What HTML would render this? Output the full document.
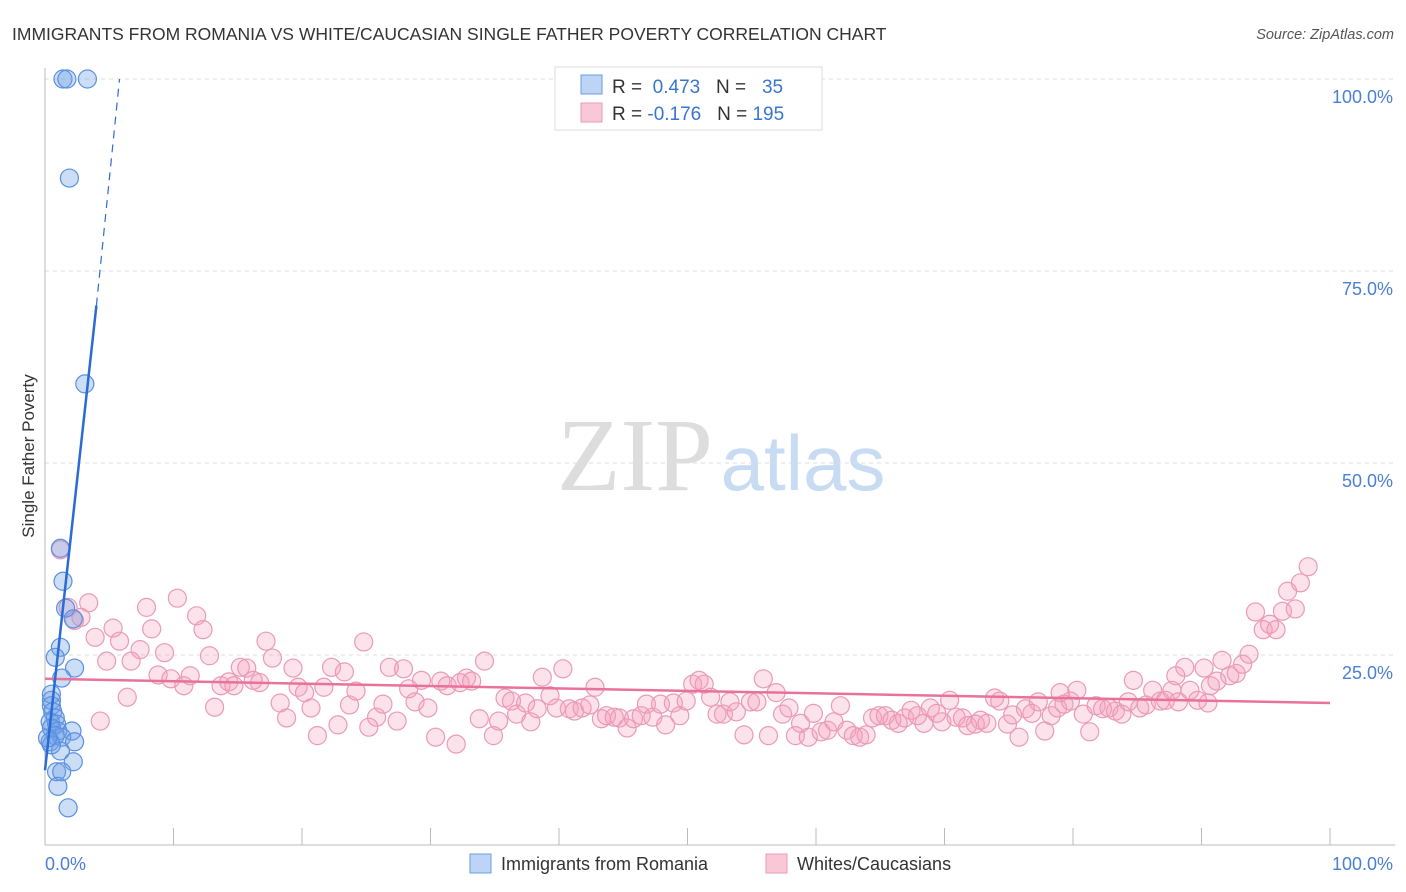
<!DOCTYPE html>
<html><head><meta charset="utf-8"><style>
body{margin:0;background:#fff;font-family:"Liberation Sans",sans-serif}
svg{display:block}
</style></head><body>
<svg width="1406" height="892" viewBox="0 0 1406 892" xmlns="http://www.w3.org/2000/svg">
<text x="12" y="40" font-size="17.5" fill="#333">IMMIGRANTS FROM ROMANIA VS WHITE/CAUCASIAN SINGLE FATHER POVERTY CORRELATION CHART</text>
<text x="1394" y="39" font-size="14.5" fill="#555" font-style="italic" text-anchor="end">Source: ZipAtlas.com</text>
<g>
<text x="635" y="490" font-size="104" font-family="Liberation Serif,serif" fill="#ddd" text-anchor="middle">ZIP</text>
<text x="803" y="490" font-size="78" fill="#c7dbf3" text-anchor="middle">atlas</text>
</g>
<g id="grid"></g>
<g id="axes"></g>
<g id="pink"></g>
<g id="blue"></g>
<g id="lines"></g>
<text transform="translate(34,456) rotate(-90)" font-size="17" fill="#333" text-anchor="middle">Single Father Poverty</text>
<text x="45" y="870" font-size="18" fill="#4a7fd4">0.0%</text>
<text x="1393" y="870" font-size="18" fill="#4a7fd4" text-anchor="end">100.0%</text>
<g>
<rect x="555" y="67" width="267" height="63" fill="#fff" stroke="#ddd"/>
<rect x="581" y="75" width="21" height="19" fill="#bcd4f5" stroke="#6a9be0"/>
<rect x="581" y="103" width="21" height="19" fill="#f9c8d6" stroke="#ec9ab5"/>
<text x="612" y="93" font-size="19" fill="#333">R = <tspan fill="#3a74d0">&#160;0.473</tspan>&#160;&#160;&#160;N = <tspan fill="#3a74d0">&#160;&#160;35</tspan></text>
<text x="612" y="120" font-size="19" fill="#333">R = <tspan fill="#3a74d0">-0.176</tspan>&#160;&#160;&#160;N = <tspan fill="#3a74d0">195</tspan></text>
</g>
<g>
<rect x="470" y="854" width="21" height="19" fill="#bcd4f5" stroke="#6a9be0"/>
<text x="501" y="870" font-size="18" fill="#333">Immigrants from Romania</text>
<rect x="766" y="854" width="21" height="19" fill="#f9c8d6" stroke="#ec9ab5"/>
<text x="797" y="870" font-size="18" fill="#333">Whites/Caucasians</text>
</g>
</svg>
<script>
const yTicks=[25,50,75,100];
const yTickLabels=["25.0%","50.0%","75.0%","100.0%"];
const xTicks=[10,20,30,40,50,60,70,80,90,100];
const blueX=[1.4,1.7,3.3,1.9,3.1,1.2,1.4,1.6,2.2,1.2,0.8,2.3,1.3,0.5,0.5,0.5,0.6,0.8,0.4,0.9,0.5,1.0,2.1,0.8,1.3,2.3,0.4,1.2,2.2,0.9,1.3,1.0,1.8,0.5,0.2];
const blueY=[100,100,100,87.1,60.3,38.9,34.6,31.1,29.7,26.0,24.7,23.3,22.0,19.9,19.1,18.4,17.6,16.8,16.3,16.0,15.5,15.1,15.1,14.5,14.3,13.7,13.7,12.5,11.1,9.8,9.8,7.9,5.1,13.3,14.2];
const pinkX=[1.2,1.8,3.4,2.8,2.3,3.9,4.3,4.8,5.3,5.8,6.4,6.7,7.4,7.9,8.3,8.8,9.3,9.8,10.3,10.8,11.3,11.8,12.3,12.8,13.2,13.7,14.3,14.7,15.2,15.7,16.2,16.7,17.2,17.7,18.3,18.8,19.3,19.7,20.2,20.7,21.2,21.7,22.3,22.8,23.3,23.7,24.2,24.8,25.2,25.8,26.3,26.8,27.4,27.9,28.3,28.8,29.3,29.8,30.4,30.8,31.3,32.0,32.3,32.8,33.2,33.8,34.2,34.9,35.3,35.8,36.3,36.7,37.4,37.8,38.3,38.7,39.3,39.8,40.3,40.8,41.2,41.8,42.4,42.8,43.3,43.7,44.3,44.7,45.3,45.8,46.4,46.8,47.3,47.9,48.3,48.9,49.4,49.9,50.4,50.9,51.3,51.8,52.3,52.8,53.3,53.8,54.4,54.9,55.4,55.9,56.3,56.9,57.4,57.9,58.4,58.8,59.4,59.8,60.4,60.9,61.4,61.9,62.4,62.9,63.4,63.9,64.4,64.9,65.4,65.9,66.4,66.9,67.4,67.9,68.4,68.9,69.4,69.8,70.4,70.9,71.4,71.8,72.4,72.8,73.3,73.9,74.3,74.9,75.3,75.8,76.3,76.8,77.3,77.8,78.3,78.8,79.3,79.8,80.3,80.8,81.3,81.8,82.3,82.8,83.3,83.8,84.3,84.7,85.2,85.7,86.2,86.8,87.2,87.7,88.2,88.7,89.1,89.7,90.2,90.7,91.2,91.6,92.2,92.7,93.2,93.7,94.2,94.8,95.3,95.8,96.3,96.7,97.3,97.7,98.3,90.5,88.0,79.0];
const pinkY=[38.7,31.2,31.8,29.9,29.5,27.3,16.4,24.2,28.5,26.8,19.5,24.2,25.7,31.2,28.4,22.4,25.3,21.9,32.4,21.0,22.3,30.1,28.3,24.9,18.2,21.0,21.5,21.0,23.4,23.3,21.7,21.4,26.8,24.6,18.75,16.8,23.3,20.8,20.1,18.1,14.5,20.8,23.4,15.9,22.8,18.5,20.3,26.7,15.6,16.9,18.6,23.4,16.4,23.2,20.6,18.9,21.7,18.1,14.3,21.6,21.0,13.4,21.4,22.0,21.6,16.7,24.2,14.5,16.4,19.4,19.0,17.3,18.75,16.3,18.0,22.1,19.7,18.1,23.2,18.0,17.7,18.1,18.5,20.8,16.7,17.1,16.9,16.8,15.5,16.7,17.1,18.6,16.9,18.6,15.9,18.75,17.1,19.0,21.2,21.7,21.2,19.5,17.3,17.3,18.9,17.6,14.6,18.9,18.9,21.9,14.5,20.1,17.3,18.1,14.5,16.1,14.3,17.4,15.0,15.2,16.3,18.4,15.2,14.5,14.3,14.6,16.8,17.1,17.1,16.5,16.1,16.8,17.8,17.1,16.1,18.1,17.4,16.3,19.1,16.9,16.8,15.8,16.0,16.5,16.1,19.4,19.0,16.0,17.2,14.3,18.0,17.4,18.9,15.1,17.1,18.1,18.6,19.0,20.4,17.3,15.0,18.4,18.0,18.1,17.7,17.3,18.9,21.7,18.1,18.5,20.4,19.0,19.1,20.4,18.9,23.4,20.4,19.1,23.3,21.0,21.6,24.3,22.3,22.6,23.8,25.1,30.6,28.3,29.0,28.3,30.7,33.3,31.0,34.4,36.5,18.75,22.3,20.1];
const blueLine=[0,10.0,4.0,70.5,5.8,100];
const pinkLine=[0,21.9,100,18.75];
const X0=45,X1=1330,Y0=847,Y100=79;
const sx=v=>X0+(X1-X0)*v/100, sy=v=>Y0-(Y0-Y100)*v/100;
const NS="http://www.w3.org/2000/svg";
function mk(p,t,a){const e=document.createElementNS(NS,t);for(const k in a)e.setAttribute(k,a[k]);p.appendChild(e);return e;}
const grid=document.getElementById('grid'),axes=document.getElementById('axes');
yTicks.forEach((t,i)=>{
 const l=mk(grid,'line',{x1:X0,x2:1395,y1:sy(t),y2:sy(t),stroke:'#ddd','stroke-dasharray':'4,4'});
 
 
 const tx=mk(grid,'text',{x:1393,y:sy(t)+24,'font-size':18,fill:'#4a7fd4','text-anchor':'end'});
 tx.textContent=yTickLabels[i];
 
 
});
const ax=mk(axes,'line',{x1:X0,x2:1395,y1:845,y2:845,stroke:'#bbb'});


const ay=mk(axes,'line',{x1:X0,x2:X0,y1:68,y2:845,stroke:'#bbb'});


xTicks.forEach(t=>{
 const l=mk(axes,'line',{x1:sx(t),x2:sx(t),y1:828,y2:845,stroke:'#bbb'});
 
 
});
const pg=document.getElementById('pink');
pinkX.forEach((x,i)=>{
 const c=mk(pg,'circle',{cx:sx(x),cy:sy(pinkY[i]),r:9,fill:'rgba(244,160,188,0.3)',stroke:'#eb9ab4','stroke-width':1.2});
 
 
});
const bg=document.getElementById('blue');
blueX.forEach((x,i)=>{
 const c=mk(bg,'circle',{cx:sx(x),cy:sy(blueY[i]),r:9,fill:'rgba(110,160,230,0.35)',stroke:'#5b8fe0','stroke-width':1.2});
 
 
});
const lg=document.getElementById('lines');
const pl=mk(lg,'line',{x1:sx(pinkLine[0]),y1:sy(pinkLine[1]),x2:sx(pinkLine[2]),y2:sy(pinkLine[3]),stroke:'#e8729a','stroke-width':2.5});


const bl=mk(lg,'line',{x1:sx(blueLine[0]),y1:sy(blueLine[1]),x2:sx(blueLine[2]),y2:sy(blueLine[3]),stroke:'#2a6bd6','stroke-width':2.5});


const bd=mk(lg,'line',{x1:sx(blueLine[2]),y1:sy(blueLine[3]),x2:sx(blueLine[4]),y2:sy(blueLine[5]),stroke:'#2a6bd6','stroke-width':1.2,'stroke-dasharray':'8,6'});


</script>
</body></html>
